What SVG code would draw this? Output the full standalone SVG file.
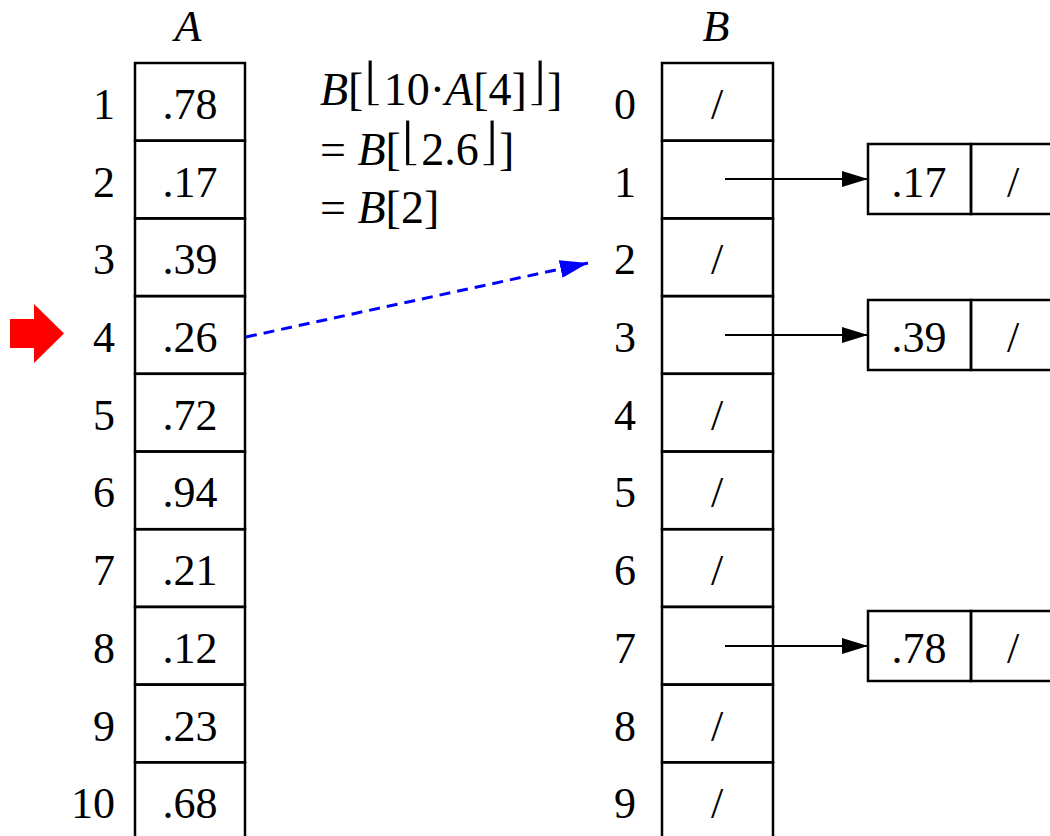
<svg xmlns="http://www.w3.org/2000/svg" width="1050" height="836" viewBox="0 0 1050 836">
<style>
text{font-family:"Liberation Serif","DejaVu Serif",serif;font-size:44px;fill:#000}
.c{text-anchor:middle}
.e{text-anchor:end}
.i{font-style:italic}
.f{font-size:46px}
.fl{font-family:"DejaVu Serif",serif;font-size:52px;stroke:#fff;stroke-width:1.6px}
.cell{fill:none;stroke:#000;stroke-width:2.5}
.ptr{stroke:#000;stroke-width:2;fill:none}
</style>
<defs>
<marker id="ah" markerWidth="26" markerHeight="16" refX="26" refY="8" orient="auto" markerUnits="userSpaceOnUse"><path d="M0,0 L26,8 L0,16 Z" fill="#000"/></marker>
<marker id="bh" markerWidth="28" markerHeight="18" refX="28" refY="9" orient="auto" markerUnits="userSpaceOnUse"><path d="M0,0 L28,9 L0,18 Z" fill="#0000ff"/></marker>
</defs>
<rect width="1050" height="836" fill="#fff"/>
<g id="labels">
<text class="c i" x="188" y="41">A</text>
<text class="c i" x="716" y="41">B</text>
</g>
<g id="arrayA">
<g id="A1"><rect class="cell" x="135" y="63" width="110" height="77.7"/><text class="e" x="115" y="118.9">1</text><text class="c" x="190" y="118.9">.78</text></g>
<g id="A2"><rect class="cell" x="135" y="140.7" width="110" height="77.7"/><text class="e" x="115" y="196.6">2</text><text class="c" x="190" y="196.6">.17</text></g>
<g id="A3"><rect class="cell" x="135" y="218.4" width="110" height="77.7"/><text class="e" x="115" y="274.3">3</text><text class="c" x="190" y="274.3">.39</text></g>
<g id="A4"><rect class="cell" x="135" y="296.1" width="110" height="77.7"/><text class="e" x="115" y="352">4</text><text class="c" x="190" y="352">.26</text></g>
<g id="A5"><rect class="cell" x="135" y="373.8" width="110" height="77.7"/><text class="e" x="115" y="429.7">5</text><text class="c" x="190" y="429.7">.72</text></g>
<g id="A6"><rect class="cell" x="135" y="451.5" width="110" height="77.7"/><text class="e" x="115" y="507.4">6</text><text class="c" x="190" y="507.4">.94</text></g>
<g id="A7"><rect class="cell" x="135" y="529.2" width="110" height="77.7"/><text class="e" x="115" y="585.1">7</text><text class="c" x="190" y="585.1">.21</text></g>
<g id="A8"><rect class="cell" x="135" y="606.9" width="110" height="77.7"/><text class="e" x="115" y="662.8">8</text><text class="c" x="190" y="662.8">.12</text></g>
<g id="A9"><rect class="cell" x="135" y="684.6" width="110" height="77.7"/><text class="e" x="115" y="740.5">9</text><text class="c" x="190" y="740.5">.23</text></g>
<g id="A10"><rect class="cell" x="135" y="762.3" width="110" height="77.7"/><text class="e" x="115" y="818.2">10</text><text class="c" x="190" y="818.2">.68</text></g>
</g>
<g id="arrayB">
<g id="B0"><rect class="cell" x="662" y="63" width="111" height="77.7"/><text class="c" x="625" y="118.9">0</text><text class="c" x="717" y="118.9">/</text></g>
<g id="B1"><rect class="cell" x="662" y="140.7" width="111" height="77.7"/><text class="c" x="625" y="196.6">1</text></g>
<g id="B2"><rect class="cell" x="662" y="218.4" width="111" height="77.7"/><text class="c" x="625" y="274.3">2</text><text class="c" x="717" y="274.3">/</text></g>
<g id="B3"><rect class="cell" x="662" y="296.1" width="111" height="77.7"/><text class="c" x="625" y="352">3</text></g>
<g id="B4"><rect class="cell" x="662" y="373.8" width="111" height="77.7"/><text class="c" x="625" y="429.7">4</text><text class="c" x="717" y="429.7">/</text></g>
<g id="B5"><rect class="cell" x="662" y="451.5" width="111" height="77.7"/><text class="c" x="625" y="507.4">5</text><text class="c" x="717" y="507.4">/</text></g>
<g id="B6"><rect class="cell" x="662" y="529.2" width="111" height="77.7"/><text class="c" x="625" y="585.1">6</text><text class="c" x="717" y="585.1">/</text></g>
<g id="B7"><rect class="cell" x="662" y="606.9" width="111" height="77.7"/><text class="c" x="625" y="662.8">7</text></g>
<g id="B8"><rect class="cell" x="662" y="684.6" width="111" height="77.7"/><text class="c" x="625" y="740.5">8</text><text class="c" x="717" y="740.5">/</text></g>
<g id="B9"><rect class="cell" x="662" y="762.3" width="111" height="77.7"/><text class="c" x="625" y="818.2">9</text><text class="c" x="717" y="818.2">/</text></g>
</g>
<g id="node17"><rect class="cell" x="868" y="144" width="103" height="70"/><rect class="cell" x="971" y="144" width="110" height="70"/><text class="c" x="919" y="196.6">.17</text><text class="c" x="1013" y="196.6">/</text></g>
<g id="node39"><rect class="cell" x="868" y="300" width="103" height="70"/><rect class="cell" x="971" y="300" width="110" height="70"/><text class="c" x="919" y="352">.39</text><text class="c" x="1013" y="352">/</text></g>
<g id="node78"><rect class="cell" x="868" y="611" width="103" height="70"/><rect class="cell" x="971" y="611" width="110" height="70"/><text class="c" x="919" y="662.8">.78</text><text class="c" x="1013" y="662.8">/</text></g>
<g id="formula">
<text class="f" x="320" y="105"><tspan class="i">B</tspan>[<tspan class="fl" dy="-6">⌊</tspan><tspan dy="6">10·</tspan><tspan class="i">A</tspan>[4]<tspan class="fl" dy="-6">⌋</tspan><tspan dy="6">]</tspan></text>
<text class="f" x="320" y="165">= <tspan class="i">B</tspan>[<tspan class="fl" dy="-6">⌊</tspan><tspan dy="6">2.6</tspan><tspan class="fl" dy="-6">⌋</tspan><tspan dy="6">]</tspan></text>
<text class="f" x="320" y="223">= <tspan class="i">B</tspan>[2]</text>
</g>
<g id="pointer">
<path d="M10,319 L34,319 L34,304 L64,333.5 L34,363 L34,348 L10,348 Z" fill="#ff0000"/>
</g>
<g id="connectors">
<line class="ptr" x1="725" y1="179" x2="868" y2="179" marker-end="url(#ah)"/>
<line class="ptr" x1="725" y1="335" x2="868" y2="335" marker-end="url(#ah)"/>
<line class="ptr" x1="725" y1="646" x2="868" y2="646" marker-end="url(#ah)"/>
<line x1="246" y1="337" x2="588" y2="263" stroke="#0000ff" stroke-width="3" stroke-dasharray="11,7" marker-end="url(#bh)"/>
</g>
</svg>
